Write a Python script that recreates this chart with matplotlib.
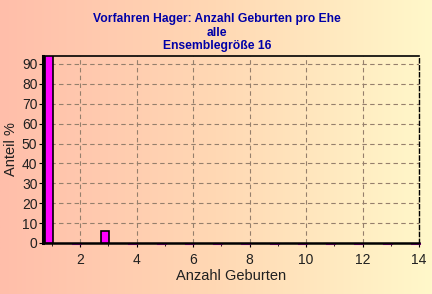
import numpy as np
import matplotlib
matplotlib.use("Agg")
import matplotlib.pyplot as plt
from matplotlib.colors import LinearSegmentedColormap

births = list(range(1, 15))
share = [94, 0, 6, 0, 0, 0, 0, 0, 0, 0, 0, 0, 0, 0]
xticks = [2, 4, 6, 8, 10, 12, 14]
yticks = [0, 10, 20, 30, 40, 50, 60, 70, 80, 90]
title = "Vorfahren Hager: Anzahl Geburten pro Ehe\nalle\nEnsemblegröße 16"

plt.rcParams['font.family'] = ['Liberation Sans', 'DejaVu Sans']

fig = plt.figure(figsize=(4.32, 2.94), dpi=100)

# background gradient
bg = fig.add_axes([0, 0, 1, 1])
cmap = LinearSegmentedColormap.from_list("bg", ["#FFBEAA", "#FFD8B4", "#FFF8CA"])
grad = np.linspace(0, 1, 256).reshape(1, -1)
bg.imshow(grad, aspect="auto", cmap=cmap, extent=[0, 1, 0, 1])
bg.set_axis_off()

ax = fig.add_axes([0.0995, 0.1735, 0.8705, 0.636])
ax.set_facecolor("none")
ax.set_zorder(2)

pos = [b - 0.11 for b in births]
for p, v in zip(pos, share):
    if v > 0:
        ax.bar(p, v, width=0.28, color="#FF00FF", edgecolor="black", linewidth=1.2, zorder=3)
    else:
        ax.plot([p - 0.14, p + 0.14], [-0.35, -0.35], color="#FF00FF", lw=1.5, zorder=2, clip_on=False)

ax.set_xlim(0.69, 14)
ax.set_ylim(0, 94)
ax.set_xticks(xticks)
ax.set_yticks(yticks)
ax.set_xticks(range(1, 15), minor=True)
ax.tick_params(axis="both", labelsize=10, colors="black", length=3, width=0.8)
ax.tick_params(axis="x", which="minor", length=2)
ax.tick_params(axis="x", pad=4)
ax.tick_params(axis="y", pad=1)
for lbl in ax.get_xticklabels() + ax.get_yticklabels():
    lbl.set_color("#202020")

ax.grid(True, which="major", linestyle=(0, (4, 3)), color="#957F6C", linewidth=0.8, zorder=1)

ax.spines["left"].set_linewidth(2.2)
ax.spines["left"].set_linestyle((0, (1.5, 1)))
ax.spines["bottom"].set_linewidth(1.8)
ax.spines["top"].set_linewidth(1.2)
ax.spines["right"].set_linewidth(1.0)
ax.spines["right"].set_linestyle((0, (3, 2)))

ax.set_xlabel("Anzahl Geburten", fontsize=10.5, color="#202020", labelpad=2)
ax.set_ylabel("Anteil %", fontsize=10.5, color="#202020", labelpad=3)

fig.text(0.502, 0.955, title, ha="center", va="top", fontsize=8.7, fontweight="bold",
         color="#0000A8", linespacing=1.15)

fig.savefig("out.png", dpi=100)
